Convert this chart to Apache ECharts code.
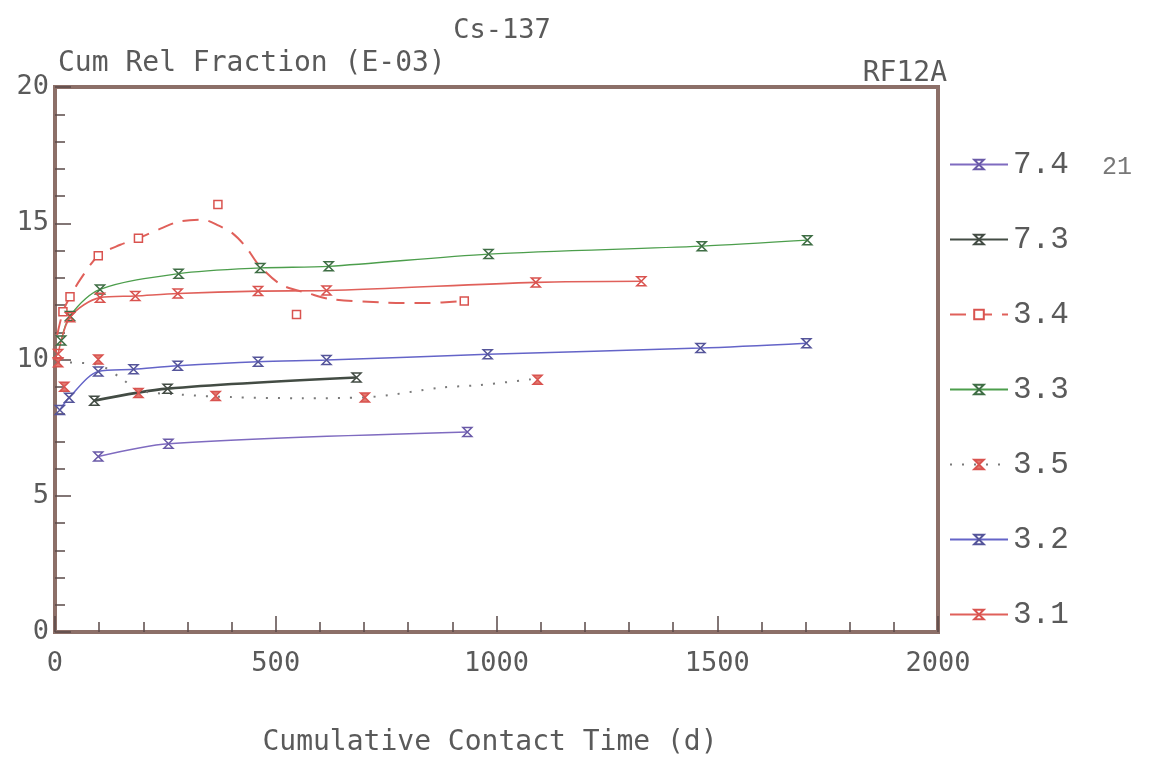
<!DOCTYPE html>
<html><head><meta charset="utf-8">
<script src="https://cdn.jsdelivr.net/npm/echarts@6/dist/echarts.min.js"></script>
<style>html,body{margin:0;padding:0;background:#fff}#c{width:1160px;height:764px}</style>
</head><body><div id="c"></div>
<script>
// ---- data (days, Cum Rel Fraction E-03) ----
const legendNames = ['7.4','7.3','3.4','3.3','3.5','3.2','3.1'];
const xTicks = [0, 500, 1000, 1500, 2000];
const yTicks = [0, 5, 10, 15, 20];
const pts74 = [[98,6.44],[257,6.91],[934,7.34]];
const pts73 = [[89,8.49],[255,8.93],[683,9.34]];
const pts34 = [[18,11.75],[34,12.30],[98,13.81],[189,14.45],[369,15.69],[547,11.65],[927,12.15]];
const pts33 = [[14,10.7],[34,11.6],[102,12.57],[280,13.15],[465,13.36],[620,13.42],[982,13.87],[1465,14.16],[1704,14.38]];
const pts35 = [[7,9.9],[21,9.0],[98,10.0],[189,8.77],[364,8.66],[702,8.61],[1093,9.26]];
const pts32 = [[11,8.15],[32,8.6],[98,9.56],[178,9.64],[278,9.77],[460,9.92],[615,9.98],[980,10.19],[1462,10.42],[1702,10.60]];
const pts31 = [[7,10.2],[34,11.55],[102,12.27],[182,12.33],[278,12.42],[460,12.51],[615,12.53],[1089,12.83],[1328,12.87]];
// fitted curves drawn in the original for 3.4 and 3.5 (not through the points)
const fit34 = [[5,10.9],[18,11.75],[34,12.3],[57,12.93],[98,13.81],[148,14.21],[189,14.45],[239,14.8],[280,15.06],[335,15.13],[371,14.91],[403,14.62],[433,14.12],[462,13.46],[513,12.74],[576,12.42],[626,12.21],[747,12.09],[838,12.07],[927,12.15]];
const fit35 = [[7,9.9],[98,9.81],[150,9.31],[189,8.87],[285,8.71],[399,8.62],[558,8.58],[702,8.61],[877,8.97],[961,9.06],[1093,9.30]];

const HG = 'path://M0,0L10,0L0,10L10,10Z';
const FONT = '"DejaVu Sans Mono",monospace';
const TXT = '#5a5a5a';

const defs = [
  {name:'7.4', pts:pts74, curve:pts74, color:'#7f6bc0', marker:'#6a5aa8', width:1.5, type:'solid', symbol:HG, fill:'rgba(0,0,0,0)'},
  {name:'7.3', pts:pts73, curve:pts73, color:'#434c44', marker:'#434c44', width:2.6, type:'solid', symbol:HG, fill:'rgba(0,0,0,0)'},
  {name:'3.4', pts:pts34, curve:fit34, color:'#e0605a', marker:'#d9534f', width:2, type:[16,10], symbol:'rect', fill:'#fff', size:8},
  {name:'3.3', pts:pts33, curve:pts33, color:'#4c9e4c', marker:'#3f6e45', width:1.3, type:'solid', symbol:HG, fill:'rgba(0,0,0,0)'},
  {name:'3.5', pts:pts35, curve:fit35, color:'#7a7a7a', marker:'#d9534f', width:2, type:[2,10], symbol:HG, fill:'#e07a70'},
  {name:'3.2', pts:pts32, curve:pts32, color:'#6464c8', marker:'#55559a', width:1.5, type:'solid', symbol:HG, fill:'rgba(0,0,0,0)'},
  {name:'3.1', pts:pts31, curve:pts31, color:'#e0605a', marker:'#d9534f', width:1.6, type:'solid', symbol:HG, fill:'rgba(0,0,0,0)'}
];

const series = [];
defs.forEach(d => {
  series.push({
    type:'line', name:d.name, data:d.curve, smooth:0.3, showSymbol:false,
    symbol:d.symbol, symbolSize:d.size||9,
    lineStyle:{color:d.color, width:d.width, type:d.type},
    itemStyle:{color:d.fill, borderColor:d.marker, borderWidth:1.5},
    z:2, silent:true
  });
  series.push({
    type:'scatter', name:d.name, data:d.pts, symbol:d.symbol, symbolSize:d.size||9,
    itemStyle:{color:d.fill, borderColor:d.marker, borderWidth:1.5, opacity:1},
    z:3, silent:true
  });
});

const chart = echarts.init(document.getElementById('c'), null, {renderer:'canvas'});
chart.setOption({
  animation:false,
  backgroundColor:'#fff',
  title:[
    {text:'Cs-137', left:497, top:12, textAlign:'center', textStyle:{fontFamily:FONT, fontSize:27, fontWeight:'normal', color:TXT}},
    {text:'Cum Rel Fraction (E-03)', left:53, top:45, textStyle:{fontFamily:FONT, fontSize:28, fontWeight:'normal', color:TXT}},
    {text:'RF12A', left:942, top:55, textAlign:'right', textStyle:{fontFamily:FONT, fontSize:28, fontWeight:'normal', color:TXT}},
    {text:'Cumulative Contact Time (d)', left:485, top:724, textAlign:'center', textStyle:{fontFamily:FONT, fontSize:28, fontWeight:'normal', color:TXT}},
    {text:'21', left:1097, top:150, textStyle:{fontFamily:'"Liberation Mono",monospace', fontSize:25, fontWeight:'normal', color:'#777'}}
  ],
  legend:{
    data:legendNames, orient:'vertical', left:944, top:144,
    itemWidth:58, itemHeight:12, itemGap:44, selectedMode:false,
    textStyle:{fontFamily:'"Liberation Mono",monospace', fontSize:31, color:TXT}
  },
  grid:{left:55, right:222, top:87, bottom:132, show:true, borderColor:'#8c6f68', borderWidth:4, backgroundColor:'transparent'},
  xAxis:{
    type:'value', min:xTicks[0], max:xTicks[xTicks.length-1], interval:xTicks[1]-xTicks[0],
    axisLine:{show:true, onZero:false, lineStyle:{color:'#8c6f68', width:4}},
    axisTick:{show:true, inside:true, length:16, lineStyle:{color:'#5a4a48', width:1.5}},
    minorTick:{show:true, splitNumber:5, length:10, lineStyle:{color:'#5a4a48', width:1.5}},
    axisLabel:{fontFamily:FONT, fontSize:27, color:TXT, margin:18, formatter:v => String(v)},
    splitLine:{show:false}
  },
  yAxis:{
    type:'value', min:yTicks[0], max:yTicks[yTicks.length-1], interval:yTicks[1]-yTicks[0],
    axisLine:{show:true, onZero:false, lineStyle:{color:'#8c6f68', width:4}},
    axisTick:{show:true, inside:true, length:16, lineStyle:{color:'#5a4a48', width:1.5}},
    minorTick:{show:true, splitNumber:5, length:10, lineStyle:{color:'#5a4a48', width:1.5}},
    axisLabel:{fontFamily:FONT, fontSize:27, color:TXT, margin:6, formatter:v => String(v)},
    splitLine:{show:false}
  },
  series:series
});
</script>
</body></html>
